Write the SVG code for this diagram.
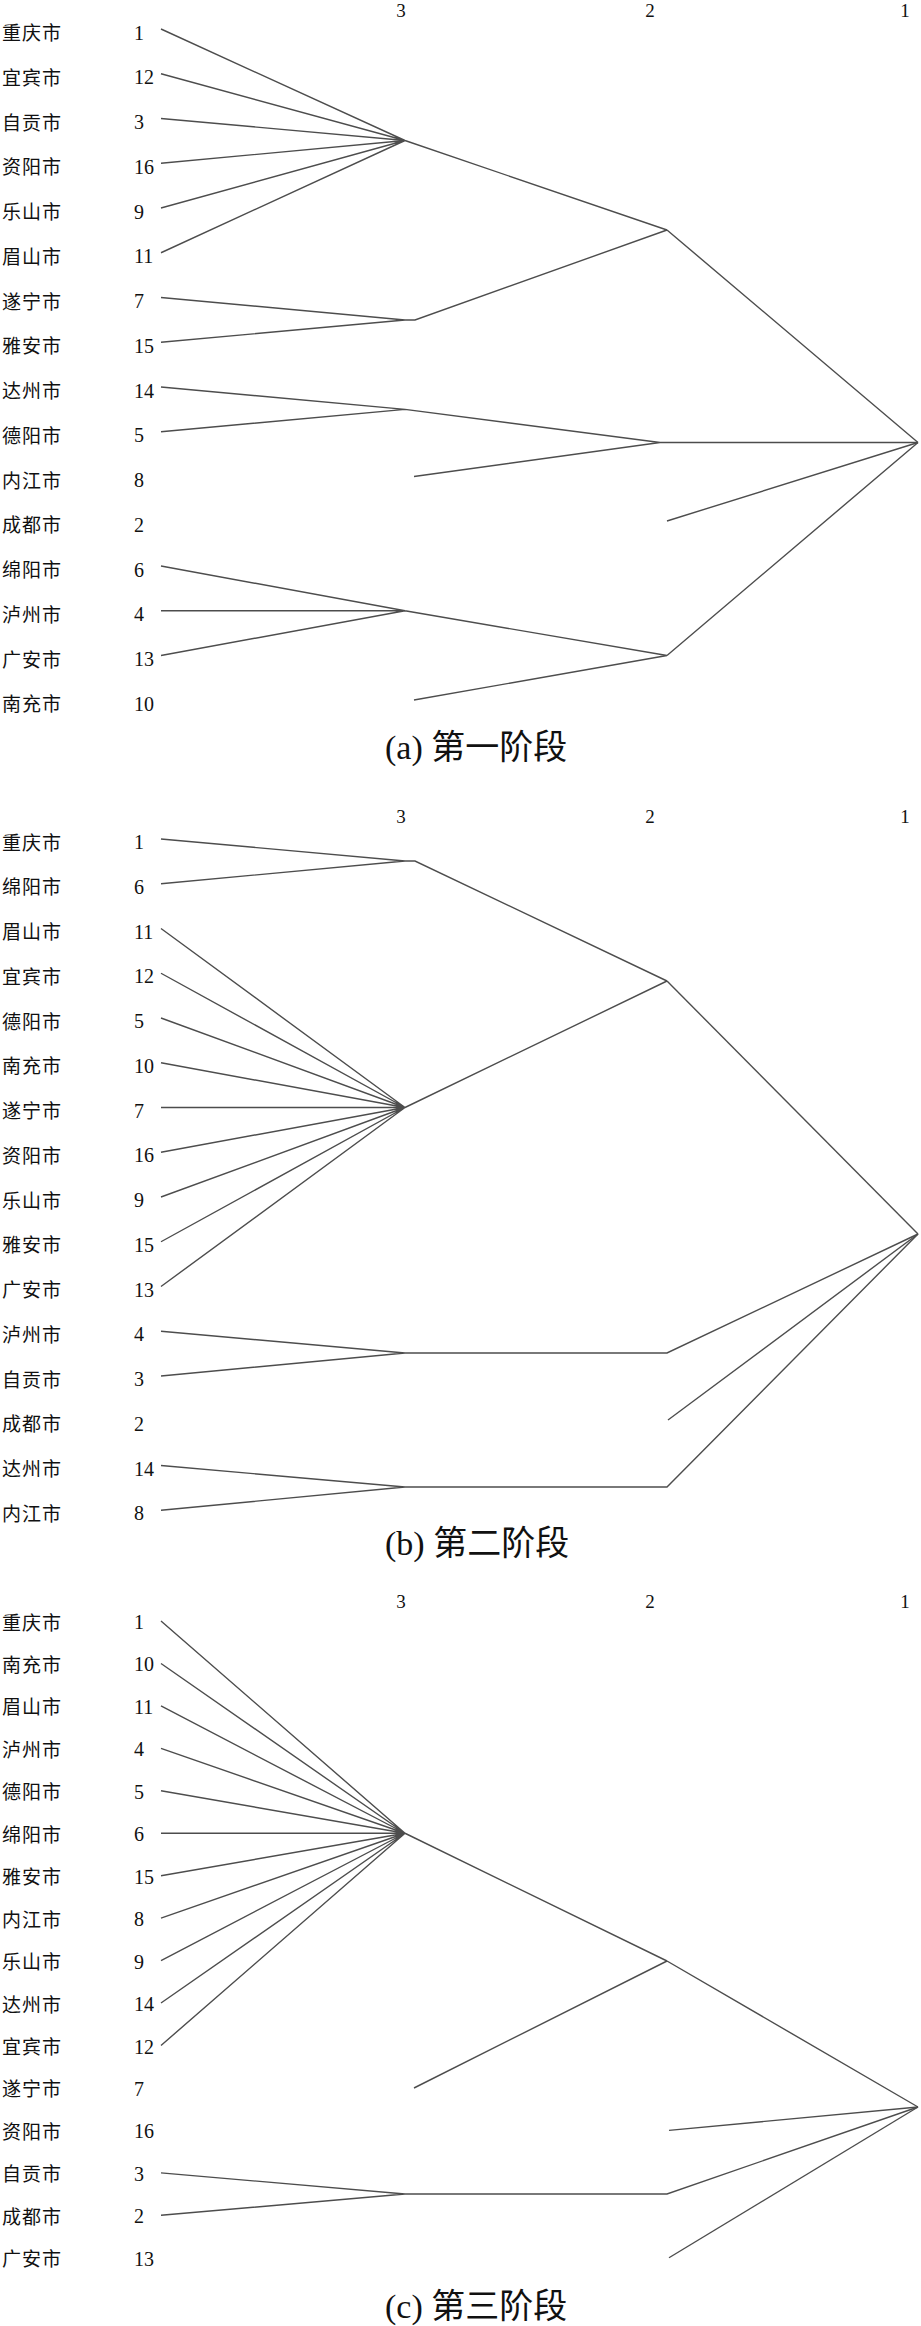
<svg xmlns="http://www.w3.org/2000/svg" width="921" height="2326" viewBox="0 0 921 2326">
<style>
.city{font-family:"Noto Sans CJK SC","Noto Sans CJK TC",sans-serif;font-size:19px;letter-spacing:1px;fill:#111}
.num{font-family:"Liberation Serif",serif;font-size:20px;fill:#111}
.hdr{font-family:"Liberation Serif",serif;font-size:19px;fill:#111;text-anchor:middle}
.cap{font-family:"Liberation Serif","Noto Sans CJK SC",serif;font-size:34px;fill:#111}
.edges path{fill:none;stroke:#4d4d4d;stroke-width:1.4;stroke-linejoin:miter}
</style>
<rect width="921" height="2326" fill="#fff"/>

<!-- Panel (a) -->
<g id="panel-a">
  <g id="a-headers">
    <text class="hdr" x="401" y="17">3</text>
    <text class="hdr" x="650" y="17">2</text>
    <text class="hdr" x="905" y="17">1</text>
  </g>
  <g id="a-n1"><text class="city" x="2" y="40">重庆市</text><text class="num" x="134" y="39.5">1</text></g>
  <g id="a-n12"><text class="city" x="2" y="84.75">宜宾市</text><text class="num" x="134" y="84.25">12</text></g>
  <g id="a-n3"><text class="city" x="2" y="129.5">自贡市</text><text class="num" x="134" y="129">3</text></g>
  <g id="a-n16"><text class="city" x="2" y="174.25">资阳市</text><text class="num" x="134" y="173.75">16</text></g>
  <g id="a-n9"><text class="city" x="2" y="219">乐山市</text><text class="num" x="134" y="218.5">9</text></g>
  <g id="a-n11"><text class="city" x="2" y="263.75">眉山市</text><text class="num" x="134" y="263.25">11</text></g>
  <g id="a-n7"><text class="city" x="2" y="308.5">遂宁市</text><text class="num" x="134" y="308">7</text></g>
  <g id="a-n15"><text class="city" x="2" y="353.25">雅安市</text><text class="num" x="134" y="352.75">15</text></g>
  <g id="a-n14"><text class="city" x="2" y="398">达州市</text><text class="num" x="134" y="397.5">14</text></g>
  <g id="a-n5"><text class="city" x="2" y="442.75">德阳市</text><text class="num" x="134" y="442.25">5</text></g>
  <g id="a-n8"><text class="city" x="2" y="487.5">内江市</text><text class="num" x="134" y="487">8</text></g>
  <g id="a-n2"><text class="city" x="2" y="532.25">成都市</text><text class="num" x="134" y="531.75">2</text></g>
  <g id="a-n6"><text class="city" x="2" y="577">绵阳市</text><text class="num" x="134" y="576.5">6</text></g>
  <g id="a-n4"><text class="city" x="2" y="621.75">泸州市</text><text class="num" x="134" y="621.25">4</text></g>
  <g id="a-n13"><text class="city" x="2" y="666.5">广安市</text><text class="num" x="134" y="666">13</text></g>
  <g id="a-n10"><text class="city" x="2" y="711.25">南充市</text><text class="num" x="134" y="710.75">10</text></g>
  <g id="a-caption"><text class="cap" x="385" y="759">(a) 第一阶段</text></g>
  <g id="a-edges" class="edges">
    <path d="M161,29 L405,140.5 M161,73.75 L405,140.5 M161,118.5 L405,140.5 M161,163.25 L405,140.5 M161,208 L405,140.5 M161,252.75 L405,140.5 M405,140.5 L667,230"/>
    <path d="M161,297.5 L405,320 M161,342.25 L405,320 M405,320 L415,320 L667,230"/>
    <path d="M161,387 L405,409.4 M161,431.75 L405,409.4 M405,409.4 L660,442.5 M414,476.5 L660,442.5 M660,442.5 L918,442.5"/>
    <path d="M667,230 L918,442.5 M667,521 L918,442.5"/>
    <path d="M161,566 L405,610.75 M161,610.75 L405,610.75 M161,655.5 L405,610.75 M405,610.75 L667,655.5 M414,700 L667,655.5 M667,655.5 L918,442.5"/>
  </g>
</g>

<!-- Panel (b) -->
<g id="panel-b">
  <g id="b-headers">
    <text class="hdr" x="401" y="823">3</text>
    <text class="hdr" x="650" y="823">2</text>
    <text class="hdr" x="905" y="823">1</text>
  </g>
  <g id="b-n1"><text class="city" x="2" y="849.5">重庆市</text><text class="num" x="134" y="849">1</text></g>
  <g id="b-n6"><text class="city" x="2" y="894.25">绵阳市</text><text class="num" x="134" y="893.75">6</text></g>
  <g id="b-n11"><text class="city" x="2" y="939">眉山市</text><text class="num" x="134" y="938.5">11</text></g>
  <g id="b-n12"><text class="city" x="2" y="983.75">宜宾市</text><text class="num" x="134" y="983.25">12</text></g>
  <g id="b-n5"><text class="city" x="2" y="1028.5">德阳市</text><text class="num" x="134" y="1028">5</text></g>
  <g id="b-n10"><text class="city" x="2" y="1073.25">南充市</text><text class="num" x="134" y="1072.75">10</text></g>
  <g id="b-n7"><text class="city" x="2" y="1118">遂宁市</text><text class="num" x="134" y="1117.5">7</text></g>
  <g id="b-n16"><text class="city" x="2" y="1162.75">资阳市</text><text class="num" x="134" y="1162.25">16</text></g>
  <g id="b-n9"><text class="city" x="2" y="1207.5">乐山市</text><text class="num" x="134" y="1207">9</text></g>
  <g id="b-n15"><text class="city" x="2" y="1252.25">雅安市</text><text class="num" x="134" y="1251.75">15</text></g>
  <g id="b-n13"><text class="city" x="2" y="1297">广安市</text><text class="num" x="134" y="1296.5">13</text></g>
  <g id="b-n4"><text class="city" x="2" y="1341.75">泸州市</text><text class="num" x="134" y="1341.25">4</text></g>
  <g id="b-n3"><text class="city" x="2" y="1386.5">自贡市</text><text class="num" x="134" y="1386">3</text></g>
  <g id="b-n2"><text class="city" x="2" y="1431.25">成都市</text><text class="num" x="134" y="1430.75">2</text></g>
  <g id="b-n14"><text class="city" x="2" y="1476">达州市</text><text class="num" x="134" y="1475.5">14</text></g>
  <g id="b-n8"><text class="city" x="2" y="1520.75">内江市</text><text class="num" x="134" y="1520.25">8</text></g>
  <g id="b-caption"><text class="cap" x="385" y="1555">(b) 第二阶段</text></g>
  <g id="b-edges" class="edges">
    <path d="M161,839 L405,861 M161,883.75 L405,861 M405,861 L415,861 L667,981"/>
    <path d="M161,928.5 L405,1107.5 M161,973.25 L405,1107.5 M161,1018 L405,1107.5 M161,1062.75 L405,1107.5 M161,1107.5 L405,1107.5 M161,1152.25 L405,1107.5 M161,1197 L405,1107.5 M161,1241.75 L405,1107.5 M161,1286.5 L405,1107.5 M405,1107.5 L667,981"/>
    <path d="M667,981 L918,1234"/>
    <path d="M161,1331.25 L405,1353 M161,1376 L405,1353 M405,1353 L667,1353 L918,1234"/>
    <path d="M668,1420 L918,1234"/>
    <path d="M161,1465.5 L405,1487 M161,1510.25 L405,1487 M405,1487 L667,1487 L918,1234"/>
  </g>
</g>

<!-- Panel (c) -->
<g id="panel-c">
  <g id="c-headers">
    <text class="hdr" x="401" y="1608">3</text>
    <text class="hdr" x="650" y="1608">2</text>
    <text class="hdr" x="905" y="1608">1</text>
  </g>
  <g id="c-n1"><text class="city" x="2" y="1629.5">重庆市</text><text class="num" x="134" y="1629">1</text></g>
  <g id="c-n10"><text class="city" x="2" y="1671.95">南充市</text><text class="num" x="134" y="1671.45">10</text></g>
  <g id="c-n11"><text class="city" x="2" y="1714.4">眉山市</text><text class="num" x="134" y="1713.9">11</text></g>
  <g id="c-n4"><text class="city" x="2" y="1756.85">泸州市</text><text class="num" x="134" y="1756.35">4</text></g>
  <g id="c-n5"><text class="city" x="2" y="1799.3">德阳市</text><text class="num" x="134" y="1798.8">5</text></g>
  <g id="c-n6"><text class="city" x="2" y="1841.75">绵阳市</text><text class="num" x="134" y="1841.25">6</text></g>
  <g id="c-n15"><text class="city" x="2" y="1884.2">雅安市</text><text class="num" x="134" y="1883.7">15</text></g>
  <g id="c-n8"><text class="city" x="2" y="1926.65">内江市</text><text class="num" x="134" y="1926.15">8</text></g>
  <g id="c-n9"><text class="city" x="2" y="1969.1">乐山市</text><text class="num" x="134" y="1968.6">9</text></g>
  <g id="c-n14"><text class="city" x="2" y="2011.55">达州市</text><text class="num" x="134" y="2011.05">14</text></g>
  <g id="c-n12"><text class="city" x="2" y="2054">宜宾市</text><text class="num" x="134" y="2053.5">12</text></g>
  <g id="c-n7"><text class="city" x="2" y="2096.45">遂宁市</text><text class="num" x="134" y="2095.95">7</text></g>
  <g id="c-n16"><text class="city" x="2" y="2138.9">资阳市</text><text class="num" x="134" y="2138.4">16</text></g>
  <g id="c-n3"><text class="city" x="2" y="2181.35">自贡市</text><text class="num" x="134" y="2180.85">3</text></g>
  <g id="c-n2"><text class="city" x="2" y="2223.8">成都市</text><text class="num" x="134" y="2223.3">2</text></g>
  <g id="c-n13"><text class="city" x="2" y="2266.25">广安市</text><text class="num" x="134" y="2265.75">13</text></g>
  <g id="c-caption"><text class="cap" x="385" y="2318">(c) 第三阶段</text></g>
  <g id="c-edges" class="edges">
    <path d="M161,1621 L405,1833.25 M161,1663.45 L405,1833.25 M161,1705.9 L405,1833.25 M161,1748.35 L405,1833.25 M161,1790.8 L405,1833.25 M161,1833.25 L405,1833.25 M161,1875.7 L405,1833.25 M161,1918.15 L405,1833.25 M161,1960.6 L405,1833.25 M161,2003.05 L405,1833.25 M161,2045.5 L405,1833.25 M405,1833.25 L667,1961"/>
    <path d="M414,2088 L667,1961 M667,1961 L918,2107"/>
    <path d="M669,2130.4 L918,2107"/>
    <path d="M161,2172.85 L405,2194 M161,2215.3 L405,2194 M405,2194 L667,2194 L918,2107"/>
    <path d="M669,2257.75 L918,2107"/>
  </g>
</g>
</svg>
